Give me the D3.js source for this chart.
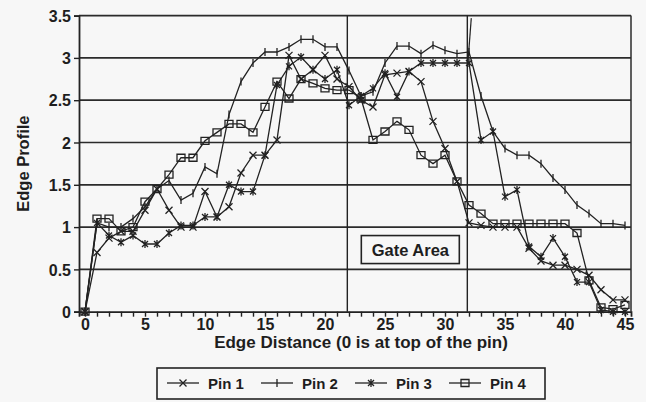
<!DOCTYPE html>
<html>
<head>
<meta charset="utf-8">
<script src="https://cdn.jsdelivr.net/npm/d3@7"></script>
<style>
  body { margin: 0; background: #f7f7f7; }
  svg { display: block; }
  text { font-family: "Liberation Sans", Arial, sans-serif; fill: #1e1e1e; }
</style>
</head>
<body>
<div id="chart"></div>
<script>
// Edge profile of four pins along the edge distance

// categories: edge distance 0..45
var distance = d3.range(0, 46);

var pin1 = [0, 0.7, 0.87, 0.95, 0.95, 1.2, 1.45, 1.2, 1.0, 1.0,
    1.42, 1.12, 1.24, 1.64, 1.85, 1.85, 2.03, 3.03, 2.75, 2.86,
    3.03, 2.75, 2.66, 2.5, 2.42, 2.8, 2.82, 2.84, 2.72, 2.25,
    1.93, 1.54, 1.05, 1.02, 1.0, 1.0, 1.0, 0.75, 0.6, 0.55,
    0.55, 0.5, 0.43, 0.26, 0.14, 0.14];

var pin2 = [0, 1.05, 1.0, 1.0, 1.1, 1.24, 1.45, 1.55, 1.32, 1.4,
    1.71, 1.63, 2.33, 2.72, 2.94, 3.07, 3.07, 3.13, 3.22, 3.22,
    3.13, 3.13, 2.85, 2.55, 2.6, 2.94, 3.14, 3.14, 3.05, 3.15,
    3.09, 3.05, 3.07, 2.55, 2.13, 1.93, 1.85, 1.85, 1.75, 1.58,
    1.44, 1.26, 1.16, 1.04, 1.04, 1.02];

var pin3 = [0, 1.05, 0.9, 0.82, 0.9, 0.8, 0.8, 0.93, 1.02, 1.02,
    1.12, 1.12, 1.5, 1.42, 1.42, 1.85, 2.68, 2.9, 3.01, 2.86,
    2.75, 2.86, 2.44, 2.55, 2.64, 2.82, 2.54, 2.84, 2.94, 2.94,
    2.94, 2.94, 2.94, 2.03, 2.13, 1.36, 1.44, 0.77, 0.65, 0.87,
    0.65, 0.35, 0.35, 0.02, 0, 0];

var pin4 = [0, 1.1, 1.1, 0.95, 1.0, 1.3, 1.45, 1.62, 1.82, 1.82,
    2.02, 2.12, 2.22, 2.22, 2.12, 2.42, 2.72, 2.52, 2.75, 2.7,
    2.64, 2.62, 2.62, 2.52, 2.03, 2.13, 2.25, 2.15, 1.85, 1.75,
    1.85, 1.54, 1.26, 1.16, 1.04, 1.04, 1.04, 1.04, 1.04, 1.04,
    1.04, 0.93, 0.37, 0.05, 0.03, 0.08];

var seriesNames = ["Pin 1", "Pin 2", "Pin 3", "Pin 4"];
var xTickLabels = [0, 5, 10, 15, 20, 25, 30, 35, 40, 45];
var yTickLabels = [0, 0.5, 1, 1.5, 2, 2.5, 3, 3.5];

// gate area bounds (hand drawn lines on the chart)
var gateStart = 21.86;
var gateEnd = 31.86;

var svgWidth = 646;
var svgHeight = 402;

var margin = { top: 15.6, bottom: 90.3, left: 79, right: 15 };
var width = svgWidth - margin.left - margin.right;
var height = svgHeight - margin.top - margin.bottom;

var svg = d3.select("#chart")
    .append("svg")
    .attr("width", svgWidth)
    .attr("height", svgHeight);

var chartGroup = svg.append("g")
    .attr("transform", `translate(${margin.left}, ${margin.top})`);

var xScale = d3.scaleLinear()
    .domain([-0.5, 45.5])
    .range([0, width]);

var yScale = d3.scaleLinear()
    .domain([0, 3.5])
    .range([height, 0]);

var ink = "#222";

// horizontal grid lines
chartGroup.selectAll(".grid")
    .data(yTickLabels.slice(1))
    .enter()
    .append("line")
    .attr("x1", 0)
    .attr("x2", width)
    .attr("y1", d => yScale(d))
    .attr("y2", d => yScale(d))
    .attr("stroke", "#2b2b2b")
    .attr("stroke-width", 1.7);

// right frame
chartGroup.append("line")
    .attr("x1", width).attr("x2", width)
    .attr("y1", 0).attr("y2", height)
    .attr("stroke", "#2b2b2b")
    .attr("stroke-width", 1.5);

// y axis
var leftAxis = d3.axisLeft(yScale)
    .tickValues(yTickLabels)
    .tickSize(5)
    .tickPadding(3)
    .tickFormat(d3.format("~g"));

var yAxis = chartGroup.append("g").call(leftAxis);

// x axis, ticks at every category
var bottomAxis = d3.axisBottom(xScale)
    .tickValues(distance)
    .tickSize(5)
    .tickPadding(2)
    .tickFormat(d => xTickLabels.indexOf(d) >= 0 ? d : "");

var xAxis = chartGroup.append("g")
    .attr("transform", `translate(0, ${height})`)
    .call(bottomAxis);

[xAxis, yAxis].forEach(function (axis) {
    axis.select(".domain").attr("stroke", ink).attr("stroke-width", 1.8);
    axis.selectAll(".tick line").attr("stroke", ink).attr("stroke-width", 1.4);
    axis.selectAll("text")
        .style("font-size", "16px")
        .style("font-weight", "bold")
        .attr("fill", "#1e1e1e");
});
yAxis.selectAll("text").attr("dy", "0.36em");

// gate area lines
chartGroup.selectAll(".gate")
    .data([gateStart, gateEnd])
    .enter()
    .append("line")
    .attr("x1", d => xScale(d))
    .attr("x2", d => xScale(d))
    .attr("y1", 0)
    .attr("y2", height)
    .attr("stroke", ink)
    .attr("stroke-width", 1.4);

// second stroke of the right gate line near the top
chartGroup.append("line")
    .attr("x1", xScale(gateEnd + 0.33))
    .attr("x2", xScale(gateEnd + 0.05))
    .attr("y1", yScale(3.47))
    .attr("y2", yScale(2.95))
    .attr("stroke", ink)
    .attr("stroke-width", 1.2);

// gate area label
var gateMid = (gateStart + gateEnd) / 2;
chartGroup.append("rect")
    .attr("x", xScale(gateMid) - 46)
    .attr("y", yScale(0.9))
    .attr("width", 98)
    .attr("height", 28)
    .attr("fill", "none")
    .attr("stroke", ink)
    .attr("stroke-width", 1.6);

chartGroup.append("text")
    .attr("x", xScale(gateMid) + 3)
    .attr("y", yScale(0.9) + 20)
    .attr("text-anchor", "middle")
    .style("font-size", "16.5px")
    .style("font-weight", "bold")
    .text("Gate Area");

// markers for each pin
var markers = [
    { path: "M-3.5,-3.5L3.5,3.5M-3.5,3.5L3.5,-3.5", fill: "none" },
    { path: "M0,-4V4", fill: "none" },
    { path: "M-3,-3L3,3M-3,3L3,-3M0,-4V4", fill: "none" },
    { path: "M-4,-3.5H4V3.5H-4Z", fill: "none" }
];

var allPins = [pin1, pin2, pin3, pin4];

var line = d3.line()
    .x((d, i) => xScale(distance[i]))
    .y(d => yScale(d));

allPins.forEach(function (values, s) {
    chartGroup.append("path")
        .datum(values)
        .attr("d", line)
        .attr("fill", "none")
        .attr("stroke", ink)
        .attr("stroke-width", 1.3);

    chartGroup.selectAll(".m" + s)
        .data(values)
        .enter()
        .append("path")
        .attr("class", "m" + s)
        .attr("transform", (d, i) => `translate(${xScale(distance[i])}, ${yScale(d)})`)
        .attr("d", markers[s].path)
        .attr("fill", markers[s].fill)
        .attr("stroke", ink)
        .attr("stroke-width", 1.3);
});

// axis titles
chartGroup.append("text")
    .attr("x", width / 2 + 6)
    .attr("y", height + 36)
    .attr("text-anchor", "middle")
    .style("font-size", "17px")
    .style("font-weight", "bold")
    .text("Edge Distance (0 is at top of the pin)");

chartGroup.append("text")
    .attr("transform", "rotate(-90)")
    .attr("x", -(yScale(1.75)))
    .attr("y", -50)
    .attr("text-anchor", "middle")
    .style("font-size", "16.5px")
    .style("font-weight", "bold")
    .text("Edge Profile");

// legend
var legend = svg.append("g")
    .attr("transform", "translate(157, 368)");

legend.append("rect")
    .attr("width", 388)
    .attr("height", 31)
    .attr("fill", "none")
    .attr("stroke", ink)
    .attr("stroke-width", 1.6);

var legendItem = legend.selectAll(".legend-item")
    .data(seriesNames)
    .enter()
    .append("g")
    .attr("transform", (d, i) => `translate(${10 + i * 94}, 15)`);

legendItem.append("line")
    .attr("x1", 0)
    .attr("x2", 32)
    .attr("stroke", ink)
    .attr("stroke-width", 1.3);

legendItem.append("path")
    .attr("transform", "translate(16, 0)")
    .attr("d", (d, i) => markers[i].path)
    .attr("fill", "none")
    .attr("stroke", ink)
    .attr("stroke-width", 1.3);

legendItem.append("text")
    .attr("x", 41)
    .attr("y", 5.5)
    .style("font-size", "15px")
    .style("font-weight", "bold")
    .text(d => d);
</script>
</body>
</html>
